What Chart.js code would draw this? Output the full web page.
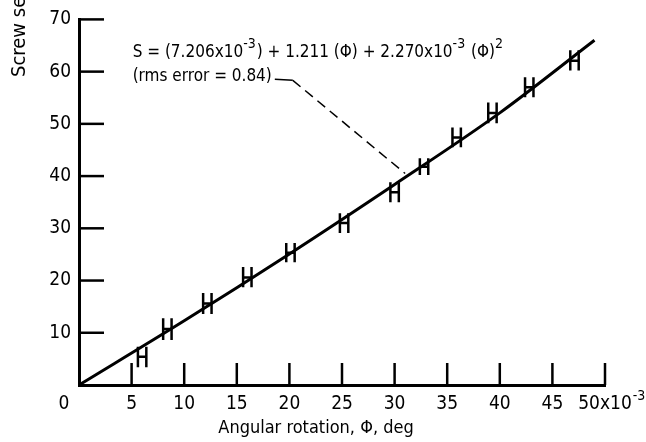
<!DOCTYPE html>
<html>
<head>
<meta charset="utf-8">
<script src="https://cdn.jsdelivr.net/npm/chart.js@4"></script>
<style>
  html, body { margin: 0; padding: 0; background: #fff; }
  #wrap { width: 646px; height: 442px; }
</style>
</head>
<body>
<div id="wrap"><canvas id="chart" width="646" height="442"></canvas></div>
<script>
// Data (angle in 10^-3 deg)
const phi   = [6.0, 8.4, 12.2, 16.0, 20.1, 25.2, 30.0, 32.8, 35.9, 39.3, 42.8, 47.1];
const sLow  = [3.4, 8.6, 13.6, 18.7, 23.5, 29.1, 35.0, 40.2, 45.5, 50.1, 55.1, 60.2];
const sHigh = [7.3, 12.8, 17.6, 22.6, 27.2, 32.9, 38.8, 43.4, 49.3, 54.1, 58.9, 64.1];
const sMid  = [5.4, 10.7, 15.6, 20.6, 25.3, 31.0, 36.9, 41.8, 47.4, 52.1, 57.0, 62.1];

// Fitted curve, points
const fitPhi = [0, 10, 20, 30, 40, 49];
const fitS   = [0, 12.3, 25.1, 38.4, 52.1, 66.0];

const xTicks = [0, 5, 10, 15, 20, 25, 30, 35, 40, 45, 50];
const yTicks = [0, 10, 20, 30, 40, 50, 60, 70];

const FONT = "'DejaVu Sans Condensed', 'DejaVu Sans', sans-serif";
const barGap = 0.4;   // half distance between the two legs of each H

// H markers: two vertical legs plus a crossbar, separated by gaps
const hPoints = [];
phi.forEach((p, i) => {
    [-barGap, barGap].forEach(d => {
        hPoints.push({ x: p + d, y: sLow[i] }, { x: p + d, y: sHigh[i] }, { x: p + d, y: null });
    });
    hPoints.push({ x: p - barGap, y: sMid[i] }, { x: p + barGap, y: sMid[i] }, { x: p + barGap, y: null });
});

// inward ticks, axis titles, origin label and the equation note
const extras = {
    id: 'extras',
    afterDraw(chart) {
        const { ctx, chartArea: a } = chart;
        const xs = chart.scales.x, ys = chart.scales.y;
        ctx.save();
        ctx.strokeStyle = '#000';
        ctx.lineWidth = 2.5;
        xTicks.slice(1).forEach(v => {
            const px = xs.getPixelForValue(v);
            ctx.beginPath(); ctx.moveTo(px, a.bottom); ctx.lineTo(px, a.bottom - 22); ctx.stroke();
        });
        yTicks.slice(1).forEach(v => {
            const py = ys.getPixelForValue(v);
            ctx.beginPath(); ctx.moveTo(a.left, py); ctx.lineTo(a.left + 25, py); ctx.stroke();
        });

        ctx.fillStyle = '#000';
        ctx.font = '19px ' + FONT;
        ctx.textBaseline = 'middle';
        ctx.textAlign = 'center';
        ctx.fillText('0', a.left - 15, a.bottom + 19);
        ctx.font = '18px ' + FONT;
        ctx.fillText('Angular rotation, \u03A6, deg', 316, 428);

        ctx.save();
        ctx.translate(20, 77);
        ctx.rotate(-Math.PI / 2);
        ctx.textAlign = 'left';
        ctx.font = '20px ' + FONT;
        ctx.fillText('Screw setting, S, deg', 0, 0);
        ctx.restore();

        // equation
        const tx = xs.getPixelForValue(5.1);
        const l1 = ys.getPixelForValue(63.7);
        const l2 = ys.getPixelForValue(59.1);
        const parts = [
            ['S = (7.206x10', 0], ['-3', 1], [') + 1.211 (\u03A6) + 2.270x10', 0], ['-3', 1], [' (\u03A6)', 0], ['2', 1]
        ];
        ctx.textAlign = 'left';
        let cx = tx;
        parts.forEach(([t, sup]) => {
            ctx.font = (sup ? '14px ' : '17px ') + FONT;
            ctx.fillText(t, cx, sup ? l1 - 8 : l1);
            cx += ctx.measureText(t).width + (sup ? 1 : 0);
        });
        ctx.font = '17px ' + FONT;
        const note = '(rms error = 0.84)';
        ctx.fillText(note, tx, l2);
        const ex = tx + ctx.measureText(note).width + 3;

        // superscript of the last x tick label
        ctx.font = '14px ' + FONT;
        ctx.fillText('-3', chart._x50end + 1, a.bottom + 11);

        // leader line to the curve
        ctx.lineWidth = 1.5;
        ctx.beginPath(); ctx.moveTo(ex, l2 + 3); ctx.lineTo(ex + 18, l2 + 4); ctx.stroke();
        ctx.setLineDash([10, 6]);
        ctx.beginPath();
        ctx.moveTo(ex + 18, l2 + 4);
        ctx.lineTo(xs.getPixelForValue(31.0), ys.getPixelForValue(40.5));
        ctx.stroke();
        ctx.restore();
    }
};

const chart = new Chart(document.getElementById('chart').getContext('2d'), {
    type: 'line',
    data: {
        datasets: [{
            data: fitPhi.map((x, i) => ({ x, y: fitS[i] })),
            borderColor: '#000',
            borderWidth: 3,
            pointRadius: 0,
            cubicInterpolationMode: 'monotone'
        }, {
            data: hPoints,
            borderColor: '#000',
            borderWidth: 2.5,
            pointRadius: 0,
            spanGaps: false
        }]
    },
    plugins: [{
        id: 'x50',
        afterDraw(c) {
            // right edge of the "50x10" label, for the superscript
            const xs = c.scales.x;
            c.ctx.save();
            c.ctx.font = '19px ' + FONT;
            c._x50end = xs.getPixelForValue(50) + c.ctx.measureText('50x10').width / 2;
            c.ctx.restore();
        }
    }, extras],
    options: {
        responsive: false,
        animation: false,
        events: [],
        layout: { padding: { left: 0, top: 19, right: 41, bottom: 0 } },
        plugins: { legend: { display: false }, tooltip: { enabled: false } },
        scales: {
            x: {
                type: 'linear',
                min: 0, max: 50,
                afterFit: s => { s.height = 57; },
                afterBuildTicks: s => { s.ticks = xTicks.map(v => ({ value: v })); },
                grid: { display: false, drawTicks: false },
                border: { display: true, color: '#000', width: 3 },
                ticks: {
                    padding: 8,
                    color: '#000',
                    autoSkip: false,
                    maxRotation: 0,
                    font: { family: FONT, size: 19 },
                    callback: v => v === 0 ? '' : (v === 50 ? '50x10' : v)
                }
            },
            y: {
                type: 'linear',
                min: 0, max: 70,
                afterFit: s => { s.width = 79; },
                afterBuildTicks: s => { s.ticks = yTicks.map(v => ({ value: v })); },
                grid: { display: false, drawTicks: false },
                border: { display: true, color: '#000', width: 3 },
                ticks: {
                    padding: 8,
                    color: '#000',
                    font: { family: FONT, size: 19 },
                    callback: v => v === 0 ? '' : v
                }
            }
        }
    }
});
</script>
</body>
</html>
